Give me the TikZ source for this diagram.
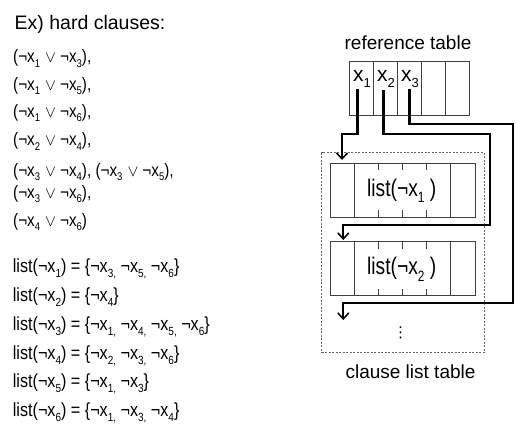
\documentclass[tikz,border=0pt]{standalone}
\usepackage{fontspec}
\setmainfont{Liberation Sans}
\newfontfamily\listfont[FakeStretch=0.85]{Liberation Sans}
\newfontfamily\cellfont[FakeStretch=0.8]{Liberation Sans}
\newfontfamily\symfont{DejaVu Sans}
\usetikzlibrary{positioning,arrows.meta}

\newcommand{\sbs}[1]{\raisebox{-0.27em}{\scalebox{0.62}{#1}}}
\newcommand{\negx}[1]{¬x\sbs{#1}}
\newcommand{\vor}{\hspace{5pt}\scalebox{0.95}{$\vee$}\hspace{4pt}}

\begin{document}
\begin{tikzpicture}[x=1pt,y=-1pt,
  txtline/.style={anchor=base west,inner sep=0pt},
  clause/.style={txtline,font=\listfont\fontsize{18}{21}\selectfont},
  listline/.style={txtline,font=\listfont\fontsize{19}{22}\selectfont},
  tabtitle/.style={anchor=base,inner sep=0pt,font=\fontsize{19}{22}\selectfont},
  boxline/.style={draw=black!75,line width=0.8pt},
  cell/.style={boxline,minimum width=24pt,minimum height=54pt,inner sep=0pt,outer sep=0pt},
  cellx/.style={txtline,font=\fontsize{21}{24}\selectfont},
  listbox/.style={boxline,minimum width=145.3pt,minimum height=54pt,inner sep=0pt,outer sep=0pt},
  boxlabel/.style={inner sep=0pt,font=\cellfont\fontsize{24}{28}\selectfont},
  link/.style={line width=2.3pt,-{Straight Barb[length=6pt,width=11pt,line width=1.5pt]}}]
\useasboundingbox (0,0) rectangle (516,437);

% hard clauses
\node[txtline,font=\fontsize{19.5}{23}\selectfont] (head) at (14.5,29.7) {Ex) hard clauses:};
\node[clause] (c1) at (13,62.5) {(\negx{1}\vor\negx{3}),};
\node[clause] (c2) at (13,90) {(\negx{1}\vor\negx{5}),};
\node[clause] (c3) at (13,117) {(\negx{1}\vor\negx{6}),};
\node[clause] (c4) at (13,145.5) {(\negx{2}\vor\negx{4}),};
\node[clause] (c5) at (13,176) {(\negx{3}\vor\negx{4}), (\negx{3}\vor\negx{5}),};
\node[clause] (c6) at (13,198) {(\negx{3}\vor\negx{6}),};
\node[clause] (c7) at (13,226) {(\negx{4}\vor\negx{6})};

% lists
\node[listline] (p1) at (12.7,272) {list(\negx{1}) = \{\negx{3,} \negx{5,} \negx{6}\}};
\node[listline] (p2) at (12.7,301) {list(\negx{2}) = \{\negx{4}\}};
\node[listline] (p3) at (12.7,330) {list(\negx{3}) = \{\negx{1,} \negx{4,} \negx{5,} \negx{6}\}};
\node[listline] (p4) at (12.7,359) {list(\negx{4}) = \{\negx{2,} \negx{3,} \negx{6}\}};
\node[listline] (p5) at (12.7,387.5) {list(\negx{5}) = \{\negx{1,} \negx{3}\}};
\node[listline] (p6) at (12.7,416) {list(\negx{6}) = \{\negx{1,} \negx{3,} \negx{4}\}};

% reference table
\node[tabtitle] (rt) at (408,49) {reference table};
\node[cell] (r1) at (361.3,88) {};
\node[cell,right=0pt of r1] (r2) {};
\node[cell,right=0pt of r2] (r3) {};
\node[cell,right=0pt of r3] (r4) {};
\node[cell,right=0pt of r4] (r5) {};
\node[cellx] (x1) at (352.8,81.7) {x\sbs{1}};
\node[cellx] (x2) at (376.8,81.7) {x\sbs{2}};
\node[cellx] (x3) at (400.8,81.7) {x\sbs{3}};

% clause list table
\node[draw=black!60,dash pattern=on 2pt off 1.5pt,line width=0.6pt,minimum width=162.6pt,minimum height=200pt,inner sep=0pt] (clt) at (403,252.7) {};
\node[listbox] (l1) at (402.7,190.3) {};
\node[listbox,below=24.4pt of l1] (l2) {};
\foreach \b in {l1,l2} {
  \draw[boxline] ([xshift=24pt]\b.north west) -- ([xshift=24pt]\b.south west);
  \draw[boxline] ([xshift=-24.6pt]\b.north east) -- ([xshift=-24.6pt]\b.south east);
  \foreach \i in {2,3,4} {
    \draw[boxline] ([xshift=\i*24pt]\b.north west) -- ++(0,7);
    \draw[boxline] ([xshift=\i*24pt]\b.south west) -- ++(0,-7);
  }
}
\node[boxlabel] (n1) at (401.7,191) {list(\negx{1} )};
\node[boxlabel] (n2) at (401.7,269.5) {list(\negx{2} )};
\node[font=\symfont\fontsize{15}{15}\selectfont,inner sep=0pt] (dots) at (400.7,333.3) {⋮};
\node[tabtitle] (ct) at (410.5,378) {clause list table};

% pointers
\coordinate (s1) at (357.5,88.5);
\coordinate (s2) at (383.5,90);
\coordinate (s3) at (409.5,88.5);
\coordinate (e1) at (342,160);
\coordinate (e2) at (343.3,240);
\coordinate (e3) at (343.3,320);
\draw[link] (s1) -- ++(0,45.8) -| (e1);
\draw[link] (s2) -- ++(0,44.3) -| (490,225) -| (e2);
\draw[link] (s3) -- ++(0,35.8) -| (513.3,303.3) -| (e3);
\end{tikzpicture}
\end{document}
